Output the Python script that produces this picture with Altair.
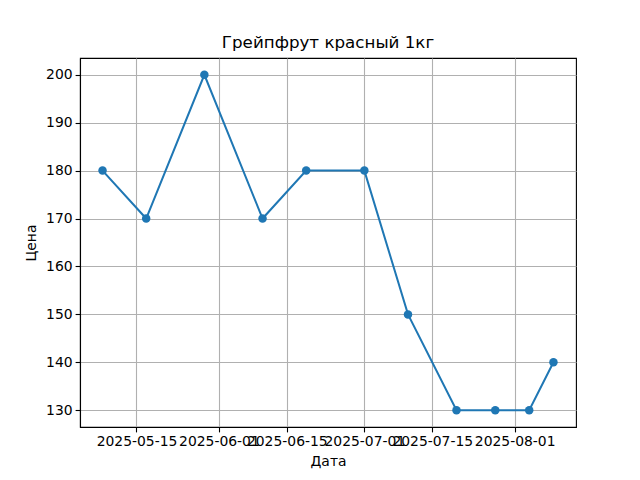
import altair as alt
import pandas as pd

dates = ["2025-05-08", "2025-05-17", "2025-05-29", "2025-06-10", "2025-06-19",
         "2025-07-01", "2025-07-10", "2025-07-20", "2025-07-28", "2025-08-04", "2025-08-09"]
prices = [180, 170, 200, 170, 180, 180, 150, 130, 130, 130, 140]
tick_dates = [(2025, 5, 15), (2025, 6, 1), (2025, 6, 15), (2025, 7, 1), (2025, 7, 15), (2025, 8, 1)]
y_ticks = [130, 140, 150, 160, 170, 180, 190, 200]

df = pd.DataFrame({"date": dates, "price": prices})

FONT = "DejaVu Sans"
BLUE = "#1f77b4"

x_enc = alt.X(
    "date:T",
    title="Дата",
    scale=alt.Scale(
        type="utc",
        domain=[alt.DateTime(year=2025, month=5, date=3, hours=8, minutes=24, utc=True),
                alt.DateTime(year=2025, month=8, date=13, hours=15, minutes=36, utc=True)],
    ),
    axis=alt.Axis(
        values=[alt.DateTime(year=y, month=m, date=d, utc=True) for (y, m, d) in tick_dates],
        format="%Y-%m-%d",
        labelOverlap=False,
        labelFlush=False,
    ),
)
y_enc = alt.Y(
    "price:Q",
    title="Цена",
    scale=alt.Scale(domain=[126.5, 203.5], nice=False, zero=False),
    axis=alt.Axis(values=y_ticks),
)

base = alt.Chart(df).encode(x=x_enc, y=y_enc)
line = base.mark_line(color=BLUE, strokeWidth=2)
pts = base.mark_point(filled=True, color=BLUE, size=72, opacity=1, shape="circle")

chart = (
    (line + pts)
    .properties(
        width=496,
        height=369,
        title=alt.TitleParams("Грейпфрут красный 1кг", font=FONT, fontSize=16.7,
                              fontWeight="normal", color="black", offset=6),
        padding={"left": 72, "top": 50, "right": 56, "bottom": 45},
        autosize=alt.AutoSizeParams(type="none"),
    )
    .configure_view(stroke="black", strokeWidth=1.1)
    .configure_axis(
        grid=True,
        gridColor="#b0b0b0",
        gridWidth=1.1,
        domainColor="black",
        domainWidth=1.1,
        tickColor="black",
        tickSize=4.9,
        tickWidth=1.1,
        labelFont=FONT,
        labelFontSize=13.9,
        labelColor="black",
        labelPadding=3,
        titleFont=FONT,
        titleFontSize=13.9,
        titleFontWeight="normal",
        titleColor="black",
    )
    .configure_axisX(titlePadding=6)
    .configure_axisY(titlePadding=7)
)

chart.save("out.html", embed_options={"renderer": "svg", "actions": False})
